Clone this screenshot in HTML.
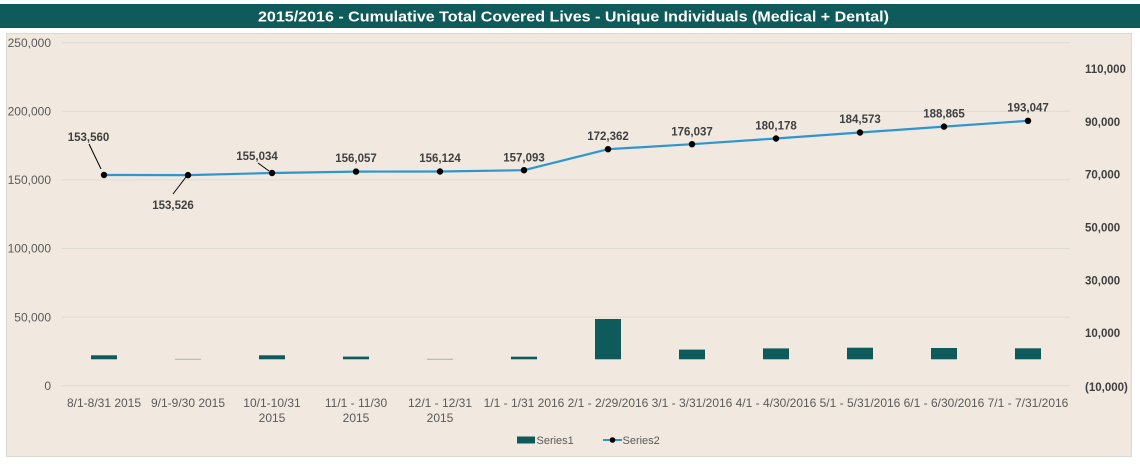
<!DOCTYPE html>
<html>
<head>
<meta charset="utf-8">
<style>
  html,body{margin:0;padding:0;background:#ffffff;}
  svg{display:block;}
  text{font-family:"Liberation Sans",Arial,sans-serif;}
</style>
</head>
<body>
<svg width="1140" height="464" viewBox="0 0 1140 464" xmlns="http://www.w3.org/2000/svg">
  <rect x="0" y="0" width="1140" height="464" fill="#ffffff"/>
  <!-- title bar -->
  <rect x="0" y="4" width="1140" height="24" fill="#0f5b5b"/>
  <text x="258" y="21.5" font-size="15" font-weight="bold" fill="#ffffff" textLength="631" lengthAdjust="spacingAndGlyphs">2015/2016 - Cumulative Total Covered Lives - Unique Individuals (Medical + Dental)</text>

  <!-- panel -->
  <rect x="6.5" y="33.5" width="1125" height="423" fill="#f1e9e0" stroke="#dcd8d3" stroke-width="1"/>

  <!-- gridlines -->
  <g stroke="#dedad4" stroke-width="1">
    <line x1="62" y1="42.7" x2="1070" y2="42.7"/>
    <line x1="62" y1="111.3" x2="1070" y2="111.3"/>
    <line x1="62" y1="179.9" x2="1070" y2="179.9"/>
    <line x1="62" y1="248.5" x2="1070" y2="248.5"/>
    <line x1="62" y1="317.1" x2="1070" y2="317.1"/>
    <line x1="62" y1="385.7" x2="1070" y2="385.7"/>
  </g>

  <!-- left axis labels -->
  <g font-size="12" fill="#595959" text-anchor="end">
    <text x="51" y="46.9">250,000</text>
    <text x="51" y="115.5">200,000</text>
    <text x="51" y="184.1">150,000</text>
    <text x="51" y="252.7">100,000</text>
    <text x="51" y="321.3">50,000</text>
    <text x="51" y="389.9">0</text>
  </g>

  <!-- right axis labels -->
  <g font-size="11.5" font-weight="bold" fill="#404040" text-anchor="start">
    <text x="1085" y="73.1">110,000</text>
    <text x="1085" y="125.9">90,000</text>
    <text x="1085" y="178.7">70,000</text>
    <text x="1085" y="231.5">50,000</text>
    <text x="1085" y="284.3">30,000</text>
    <text x="1085" y="337.1">10,000</text>
    <text x="1085" y="390.9">(10,000)</text>
  </g>

  <!-- bars (secondary axis, baseline 359.3) -->
  <g fill="#0f5b5b">
    <rect x="91" y="355.3" width="26" height="4"/>
    <rect x="175" y="358.8" width="26" height="0.8" opacity="0.45"/>
    <rect x="259" y="355.3" width="26" height="4"/>
    <rect x="343" y="356.6" width="26" height="2.7"/>
    <rect x="427" y="358.8" width="26" height="0.8" opacity="0.45"/>
    <rect x="511" y="356.7" width="26" height="2.6"/>
    <rect x="595" y="319" width="26" height="40.3"/>
    <rect x="679" y="349.6" width="26" height="9.7"/>
    <rect x="763" y="348.4" width="26" height="10.9"/>
    <rect x="847" y="347.7" width="26" height="11.6"/>
    <rect x="931" y="348" width="26" height="11.3"/>
    <rect x="1015" y="348.3" width="26" height="11"/>
  </g>

  <!-- line series -->
  <polyline fill="none" stroke="#2e95d0" stroke-width="2.2" stroke-linejoin="round"
    points="104,175 188,175.1 272,173 356,171.6 440,171.5 524,170.2 608,149.2 692,144.2 776,138.5 860,132.5 944,126.6 1028,120.8"/>
  <g fill="#000000">
    <circle cx="104" cy="175" r="3.2"/>
    <circle cx="188" cy="175.1" r="3.2"/>
    <circle cx="272" cy="173" r="3.2"/>
    <circle cx="356" cy="171.6" r="3.2"/>
    <circle cx="440" cy="171.5" r="3.2"/>
    <circle cx="524" cy="170.2" r="3.2"/>
    <circle cx="608" cy="149.2" r="3.2"/>
    <circle cx="692" cy="144.2" r="3.2"/>
    <circle cx="776" cy="138.5" r="3.2"/>
    <circle cx="860" cy="132.5" r="3.2"/>
    <circle cx="944" cy="126.6" r="3.2"/>
    <circle cx="1028" cy="120.8" r="3.2"/>
  </g>

  <!-- leader lines -->
  <g stroke="#000000" stroke-width="1">
    <line x1="89" y1="144" x2="101" y2="169"/>
    <line x1="173" y1="194" x2="186" y2="177"/>
    <line x1="258" y1="163" x2="269" y2="171"/>
  </g>

  <!-- data labels -->
  <g font-size="11.5" font-weight="bold" fill="#404040" text-anchor="middle">
    <text x="88.5" y="141">153,560</text>
    <text x="173" y="209">153,526</text>
    <text x="257" y="160">155,034</text>
    <text x="356" y="162">156,057</text>
    <text x="440" y="162">156,124</text>
    <text x="524" y="161.3">157,093</text>
    <text x="608" y="140">172,362</text>
    <text x="692" y="135.7">176,037</text>
    <text x="776" y="129.7">180,178</text>
    <text x="860" y="123">184,573</text>
    <text x="944" y="117.3">188,865</text>
    <text x="1028" y="111.7">193,047</text>
  </g>

  <!-- category labels -->
  <g font-size="12" fill="#595959" text-anchor="middle">
    <text x="104" y="407">8/1-8/31 2015</text>
    <text x="188" y="407">9/1-9/30 2015</text>
    <text x="272" y="407">10/1-10/31</text>
    <text x="272" y="422">2015</text>
    <text x="356" y="407">11/1 - 11/30</text>
    <text x="356" y="422">2015</text>
    <text x="440" y="407">12/1 - 12/31</text>
    <text x="440" y="422">2015</text>
    <text x="524" y="407">1/1 - 1/31 2016</text>
    <text x="608" y="407">2/1 - 2/29/2016</text>
    <text x="692" y="407">3/1 - 3/31/2016</text>
    <text x="776" y="407">4/1 - 4/30/2016</text>
    <text x="860" y="407">5/1 - 5/31/2016</text>
    <text x="944" y="407">6/1 - 6/30/2016</text>
    <text x="1028" y="407">7/1 - 7/31/2016</text>
  </g>

  <!-- legend -->
  <rect x="517" y="436.5" width="18" height="7" fill="#0f5b5b"/>
  <text x="536.5" y="444" font-size="11" fill="#595959">Series1</text>
  <line x1="603" y1="440" x2="622" y2="440" stroke="#2e95d0" stroke-width="2"/>
  <circle cx="612.5" cy="440" r="2.8" fill="#000000"/>
  <text x="622.5" y="444" font-size="11" fill="#595959">Series2</text>
</svg>
</body>
</html>
